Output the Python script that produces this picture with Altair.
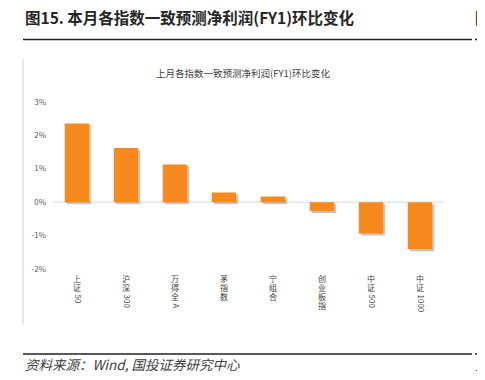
import altair as alt
import pandas as pd

# ---- data ----
categories = ["上证50", "沪深300", "万得全A", "茅指数", "宁组合", "创业板指", "中证500", "中证1000"]
values = [2.36, 1.62, 1.13, 0.29, 0.17, -0.27, -0.94, -1.41]
y_ticks = [-2, -1, 0, 1, 2, 3]

page_title = "图15. 本月各指数一致预测净利润(FY1)环比变化"
chart_title = "上月各指数一致预测净利润(FY1)环比变化"
source_text = "资料来源：Wind, 国投证券研究中心"

CJK = "Noto Sans CJK SC"
ORANGE = "#F68A1F"

def split_label(s):
    i = 0
    while i < len(s) and ord(s[i]) > 127:
        i += 1
    return s[:i], s[i:]

rows = []
maxc = 0
for c, v in zip(categories, values):
    cj, asc = split_label(c)
    maxc = max(maxc, len(cj))
    r = {"cat": c, "val": v, "asc": asc, "ncjk": len(cj)}
    for k in range(4):
        r[f"c{k}"] = cj[k] if k < len(cj) else ""
    rows.append(r)
df = pd.DataFrame(rows)

PW, PH = 392, 167
LH = 9
xenc = alt.X("cat:N", sort=categories,
             scale=alt.Scale(paddingInner=0.5, paddingOuter=0.25),
             axis=alt.Axis(labels=False, ticks=False, domain=False, title=None, grid=False))
yscale = alt.Scale(domain=[-2, 3], nice=False, zero=True)
yaxis = alt.Axis(values=y_ticks, labelExpr="datum.value + '%'", grid=False,
                 domain=False, ticks=False, title=None, labelPadding=7,
                 labelOverlap=False, labelFlush=False, labelBound=False,
                 labelFont=CJK, labelFontSize=8, labelColor="#595959")

base = alt.Chart(df)

zero = alt.Chart(pd.DataFrame({"val": [0]})).mark_rule(color="#d9d9d9", strokeWidth=1).encode(
    y=alt.Y("val:Q", scale=yscale, axis=yaxis), x=alt.value(0), x2=alt.value(PW))

shadow = base.mark_bar(color="#9a9a9a", opacity=0.55, xOffset=2, yOffset=2).encode(
    x=xenc, y=alt.Y("val:Q", scale=yscale, axis=yaxis))

bars = base.mark_bar(color=ORANGE).encode(
    x=xenc, y=alt.Y("val:Q", scale=yscale, axis=yaxis))

label_layers = []
for k in range(maxc):
    label_layers.append(
        base.transform_filter(f"datum.c{k} != ''").mark_text(
            font=CJK, fontSize=8, baseline="top", align="center", color="#404040").encode(
            x=xenc, y=alt.value(PH + 7 + LH * k), text=f"c{k}:N"))
for n in sorted(set(int(x) for x in df["ncjk"])):
    label_layers.append(
        base.transform_filter(f"datum.ncjk == {n} && datum.asc != ''").mark_text(
            font=CJK, fontSize=8, angle=90, align="left", baseline="middle",
            color="#404040").encode(
            x=xenc, y=alt.value(PH + 7.5 + LH * n), text="asc:N"))

one = pd.DataFrame({"t": [0]})
deco = alt.Chart(one)

t_page = deco.mark_text(text=page_title, font=CJK, fontSize=15.5, fontWeight="bold",
                        align="left", baseline="middle", color="#262626").encode(
    x=alt.value(-27.5), y=alt.value(-83))
u_page = deco.mark_rule(color="#222222", strokeWidth=1.5).encode(
    x=alt.value(-29.5), x2=alt.value(419.5), y=alt.value(-62.5))
u_page2 = deco.mark_rule(color="#222222", strokeWidth=1.5).encode(
    x=alt.value(422.5), x2=alt.value(440), y=alt.value(-62.5))
t_next = deco.mark_text(text="图", font=CJK, fontSize=15.5, fontWeight="bold",
                        align="left", baseline="middle", color="#262626").encode(
    x=alt.value(422.5), y=alt.value(-83))
frame = deco.mark_rule(color="#cfcfcf", strokeWidth=1).encode(
    x=alt.value(-29.5), y=alt.value(-43), y2=alt.value(222))
t_chart = deco.mark_text(text=chart_title, font=CJK, fontSize=9.5, align="center",
                         baseline="middle", color="#404040").encode(
    x=alt.value(190.5), y=alt.value(-28))
f_line = deco.mark_rule(color="#222222", strokeWidth=1.5).encode(
    x=alt.value(-29.5), x2=alt.value(419.5), y=alt.value(252))
f_line2 = deco.mark_rule(color="#222222", strokeWidth=1.5).encode(
    x=alt.value(422.5), x2=alt.value(440), y=alt.value(252))
t_src = deco.mark_text(text=source_text, font=CJK, fontSize=13.5, fontStyle="italic",
                       align="left", baseline="middle", color="#404040").encode(
    x=alt.value(-27.5), y=alt.value(264))
t_src2 = deco.mark_text(text="资", font=CJK, fontSize=13.5, fontStyle="italic",
                        align="left", baseline="middle", color="#404040").encode(
    x=alt.value(422.5), y=alt.value(264))

chart = alt.layer(zero, shadow, bars, *label_layers,
                  t_page, u_page, u_page2, t_next, frame, t_chart,
                  f_line, f_line2, t_src, t_src2).properties(
    width=PW, height=PH,
    autosize=alt.AutoSizeParams(type="none"),
    padding={"left": 44.5, "top": 94, "right": 32.5, "bottom": 103},
    background="white",
).configure_view(stroke=None)

chart.save("out.html", embed_options={"renderer": "svg", "actions": False})
